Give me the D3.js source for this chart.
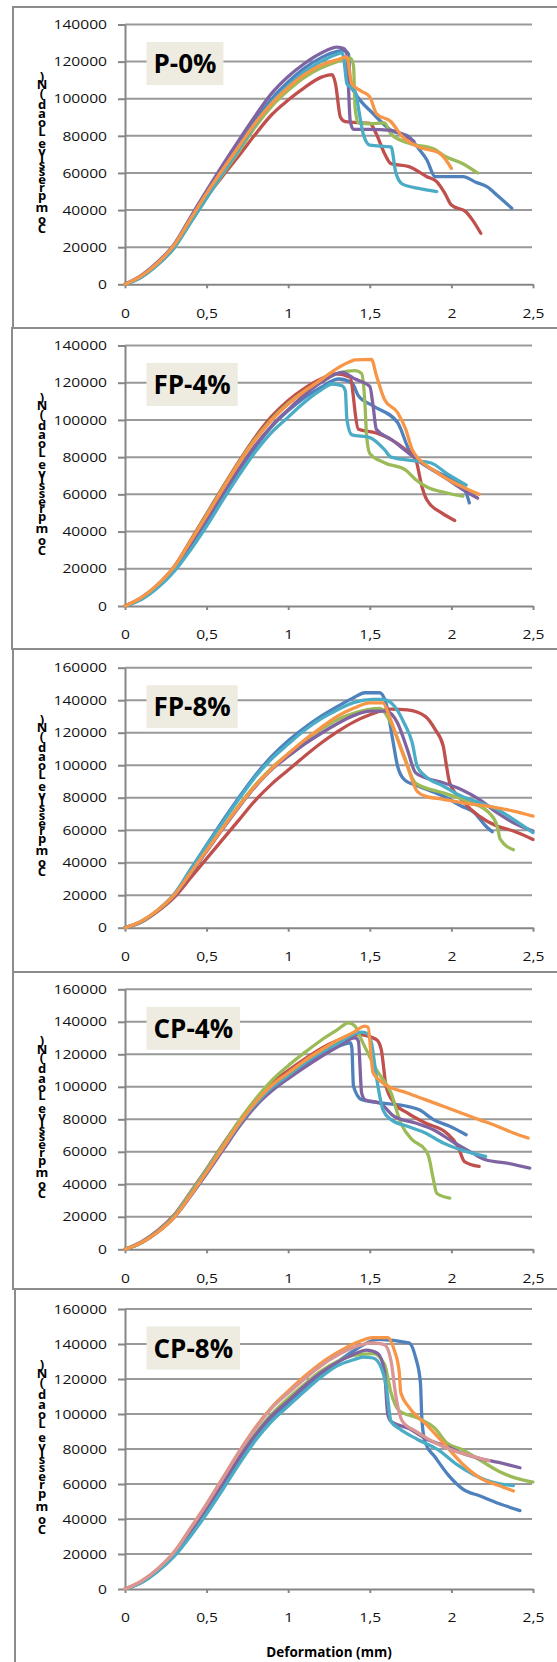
<!DOCTYPE html>
<html>
<head>
<meta charset="utf-8">
<script src="https://cdn.jsdelivr.net/npm/d3@7"></script>
<style>
  body { margin: 0; background: #fff; }
  svg text { font-family: "Open Sans", sans-serif; }
</style>
</head>
<body>
<div id="chart"></div>
<script>
// ---- data ----
const xTicks = [0, 0.5, 1, 1.5, 2, 2.5];
const yTicks140 = [0, 20000, 40000, 60000, 80000, 100000, 120000, 140000];
const yTicks160 = [0, 20000, 40000, 60000, 80000, 100000, 120000, 140000, 160000];
const panelTitles = ["P-0%", "FP-4%", "FP-8%", "CP-4%", "CP-8%"];
const yLabel = "Compressive Load (N)";
const xLabel = "Deformation (mm)";

// series order: blue, red, green, purple, aqua, orange
const p0Series = [
  [[0,0],[0.1,4500],[0.2,11000],[0.3,20500],[0.4,34500],[0.5,48500],[0.6,62000],[0.7,75000],[0.8,88500],[0.9,100000],[1.0,109000],[1.1,116500],[1.2,122000],[1.3,125500],[1.34,126000],[1.37,124000],[1.38,108000],[1.41,103000],[1.52,92000],[1.63,83000],[1.74,79500],[1.80,73000],[1.85,67000],[1.90,58000],[2.07,58000],[2.15,55000],[2.22,52500],[2.28,48000],[2.37,41000]],
  [[0,0],[0.1,4000],[0.2,11500],[0.3,20000],[0.4,33500],[0.5,47000],[0.6,58500],[0.7,69500],[0.8,81000],[0.9,91500],[1.0,99300],[1.1,106000],[1.2,111500],[1.27,113000],[1.29,108000],[1.32,90000],[1.35,87600],[1.5,86700],[1.54,81000],[1.59,70500],[1.63,65000],[1.74,63400],[1.85,58000],[1.91,55300],[1.96,49000],[2.0,42700],[2.09,39000],[2.13,34600],[2.18,27500]],
  [[0,0],[0.1,4000],[0.2,10500],[0.3,19500],[0.4,33000],[0.5,46500],[0.6,59500],[0.7,72000],[0.8,85000],[0.9,96000],[1.0,104500],[1.1,111500],[1.2,116500],[1.3,120000],[1.38,121800],[1.40,118000],[1.41,95000],[1.43,87000],[1.5,86500],[1.59,87000],[1.63,81000],[1.74,76000],[1.89,73000],[1.96,69000],[2.07,65000],[2.16,60000]],
  [[0,0],[0.1,4800],[0.2,12000],[0.3,21500],[0.4,36000],[0.5,50500],[0.6,64500],[0.7,78000],[0.8,91000],[0.9,103000],[1.0,112000],[1.1,119000],[1.2,124500],[1.3,127800],[1.34,127000],[1.36,124000],[1.37,105000],[1.38,88000],[1.40,83500],[1.5,83500],[1.63,83000],[1.67,82000],[1.77,77000]],
  [[0,0],[0.1,3800],[0.2,10500],[0.3,19500],[0.4,33000],[0.5,46500],[0.6,60000],[0.7,73000],[0.8,86500],[0.9,98000],[1.0,107000],[1.1,114500],[1.2,120000],[1.3,124000],[1.33,124800],[1.34,122000],[1.36,108000],[1.41,104000],[1.44,90000],[1.46,81000],[1.5,75000],[1.63,74000],[1.66,60000],[1.70,54000],[1.80,51700],[1.91,50000]],
  [[0,0],[0.1,4500],[0.2,11500],[0.3,21000],[0.4,35000],[0.5,49000],[0.6,62000],[0.7,74500],[0.8,87000],[0.9,97500],[1.0,106000],[1.1,113000],[1.2,118000],[1.3,121000],[1.36,122500],[1.38,112000],[1.39,108000],[1.45,104000],[1.5,101000],[1.54,92000],[1.63,87600],[1.70,79500],[1.80,74000],[1.93,70500],[2.0,62500]]
];

const fp4Series = [
  [[0,0],[0.1,4000],[0.2,10500],[0.3,19500],[0.4,32000],[0.5,45500],[0.6,59500],[0.7,73000],[0.8,85500],[0.9,96500],[1.0,105000],[1.1,112000],[1.2,117500],[1.31,122000],[1.39,120000],[1.43,113000],[1.52,107600],[1.67,98600],[1.74,84000],[1.85,75000],[1.96,70000],[2.07,65000],[2.09,61000],[2.11,55400]],
  [[0,0],[0.1,4500],[0.2,11500],[0.3,21000],[0.4,35000],[0.5,49500],[0.6,64000],[0.7,78000],[0.8,91000],[0.9,102000],[1.0,110500],[1.1,117000],[1.2,122000],[1.29,124700],[1.38,123000],[1.40,112000],[1.41,104000],[1.43,95000],[1.54,93000],[1.72,84000],[1.78,79000],[1.82,64000],[1.85,57000],[1.94,50000],[2.02,46000]],
  [[0,0],[0.1,4200],[0.2,11000],[0.3,20500],[0.4,34500],[0.5,49000],[0.6,63500],[0.7,77500],[0.8,90000],[0.9,100500],[1.0,109000],[1.1,115500],[1.2,120500],[1.32,125500],[1.41,126500],[1.45,125000],[1.47,109000],[1.48,92000],[1.5,82000],[1.59,77000],[1.72,73000],[1.78,68000],[1.85,64000],[1.96,61000],[2.07,59000]],
  [[0,0],[0.1,4000],[0.2,10800],[0.3,20000],[0.4,33000],[0.5,46500],[0.6,60500],[0.7,74000],[0.8,86500],[0.9,97000],[1.0,105500],[1.1,113500],[1.2,120000],[1.33,125600],[1.41,122000],[1.50,118000],[1.52,107600],[1.54,95000],[1.63,89600],[1.74,82000],[1.85,75000],[1.96,69000],[2.07,62600],[2.16,58000]],
  [[0,0],[0.1,3500],[0.2,9800],[0.3,18500],[0.4,30000],[0.5,43000],[0.6,57000],[0.7,70500],[0.8,83000],[0.9,93500],[1.0,101500],[1.1,109500],[1.2,116000],[1.27,119300],[1.33,118400],[1.35,115700],[1.36,100000],[1.39,92000],[1.50,90500],[1.59,84000],[1.63,80000],[1.78,78000],[1.87,77000],[1.98,70700],[2.09,65000]],
  [[0,0],[0.1,4500],[0.2,11500],[0.3,21000],[0.4,34500],[0.5,48500],[0.6,63000],[0.7,77000],[0.8,89500],[0.9,100000],[1.0,108500],[1.1,115500],[1.2,121500],[1.27,126000],[1.37,131000],[1.41,132300],[1.51,132500],[1.54,124000],[1.59,111000],[1.67,104000],[1.72,95000],[1.76,84000],[1.80,79000],[1.89,73000],[1.98,68000],[2.07,64000],[2.17,60000]]
];

const fp8Series = [
  [[0,0],[0.1,3500],[0.2,10500],[0.3,20000],[0.4,35500],[0.5,51000],[0.6,66000],[0.7,80500],[0.8,94000],[0.9,105500],[1.0,115000],[1.1,123000],[1.2,130000],[1.3,136000],[1.4,141500],[1.47,144600],[1.56,144600],[1.60,138000],[1.64,115900],[1.67,99500],[1.71,91300],[1.80,87000],[1.95,81000],[2.06,74900],[2.14,70800],[2.21,62600],[2.25,59000]],
  [[0,0],[0.1,3500],[0.2,10000],[0.3,18500],[0.4,30500],[0.5,42500],[0.6,54500],[0.7,66500],[0.8,78500],[0.9,88500],[1.0,97000],[1.1,105500],[1.2,113500],[1.3,120500],[1.4,126500],[1.5,131000],[1.63,134500],[1.73,134000],[1.84,130000],[1.90,122000],[1.95,111800],[1.97,99500],[1.99,89000],[2.06,79000],[2.17,68700],[2.28,62500],[2.38,59500],[2.5,54300]],
  [[0,0],[0.1,3800],[0.2,10500],[0.3,19500],[0.4,33500],[0.5,47500],[0.6,61500],[0.7,75500],[0.8,88000],[0.9,98500],[1.0,107000],[1.1,115000],[1.2,122000],[1.3,128000],[1.4,132000],[1.56,135000],[1.63,126000],[1.71,105600],[1.78,89000],[1.95,83000],[2.12,77000],[2.23,70800],[2.28,62600],[2.30,54300],[2.38,48000]],
  [[0,0],[0.1,3800],[0.2,10500],[0.3,19500],[0.4,33000],[0.5,47000],[0.6,61000],[0.7,74500],[0.8,87000],[0.9,97500],[1.0,105500],[1.1,113000],[1.2,119500],[1.3,125500],[1.4,130500],[1.50,133300],[1.60,133300],[1.67,126000],[1.73,109700],[1.78,95400],[1.84,92300],[1.95,89200],[2.06,85100],[2.17,79000],[2.28,70800],[2.38,64600],[2.5,59500]],
  [[0,0],[0.1,3800],[0.2,10800],[0.3,20500],[0.4,35500],[0.5,50500],[0.6,65000],[0.7,79500],[0.8,93000],[0.9,104000],[1.0,113000],[1.1,121500],[1.2,128500],[1.3,134000],[1.4,138500],[1.52,140500],[1.58,140500],[1.65,136400],[1.71,126000],[1.76,113800],[1.79,99500],[1.84,93300],[1.95,87200],[2.06,81000],[2.17,77000],[2.28,72800],[2.38,66700],[2.5,58500]],
  [[0,0],[0.1,4000],[0.2,10800],[0.3,20000],[0.4,33500],[0.5,47500],[0.6,61500],[0.7,75000],[0.8,87500],[0.9,98000],[1.0,107000],[1.1,115500],[1.2,123000],[1.3,130000],[1.4,135000],[1.50,138400],[1.58,138400],[1.62,130000],[1.67,116000],[1.73,99500],[1.79,84000],[1.84,81000],[1.95,79000],[2.06,77000],[2.28,73800],[2.38,71800],[2.5,68700]]
];

const cp4Series = [
  [[0,0],[0.1,4000],[0.2,11000],[0.3,20500],[0.4,34000],[0.5,48000],[0.6,62500],[0.7,77000],[0.8,89500],[0.9,99500],[1.0,107000],[1.1,114000],[1.2,120000],[1.3,124500],[1.38,127100],[1.39,124000],[1.40,100300],[1.45,92100],[1.58,90000],[1.73,88000],[1.80,86000],[1.89,79800],[1.99,75700],[2.09,70500]],
  [[0,0],[0.1,4500],[0.2,11500],[0.3,21000],[0.4,35000],[0.5,49500],[0.6,64500],[0.7,79000],[0.8,92000],[0.9,102500],[1.0,110000],[1.1,117000],[1.2,123500],[1.3,128500],[1.43,132200],[1.54,129100],[1.57,123000],[1.60,100300],[1.65,90000],[1.73,83900],[1.84,77700],[1.97,71600],[2.04,63300],[2.08,54000],[2.17,51000]],
  [[0,0],[0.1,4200],[0.2,11000],[0.3,20500],[0.4,34500],[0.5,49000],[0.6,64000],[0.7,79000],[0.8,92500],[0.9,104000],[1.0,113000],[1.1,121000],[1.2,128500],[1.3,135000],[1.37,139400],[1.41,137300],[1.43,133000],[1.54,110600],[1.63,96200],[1.69,77700],[1.76,67400],[1.84,61200],[1.86,57200],[1.89,42800],[1.91,34500],[1.99,31500]],
  [[0,0],[0.1,4000],[0.2,10500],[0.3,19500],[0.4,32500],[0.5,46500],[0.6,61000],[0.7,75500],[0.8,88000],[0.9,97500],[1.0,105000],[1.1,112000],[1.2,118500],[1.3,124500],[1.41,130200],[1.43,128100],[1.45,96200],[1.47,92100],[1.56,90000],[1.65,81800],[1.78,77700],[1.89,73600],[2.02,65400],[2.13,59200],[2.21,55100],[2.34,53000],[2.48,50000]],
  [[0,0],[0.1,4000],[0.2,10800],[0.3,20000],[0.4,33500],[0.5,48000],[0.6,62500],[0.7,77000],[0.8,89500],[0.9,99500],[1.0,107000],[1.1,114500],[1.2,121000],[1.3,126500],[1.45,133600],[1.48,133000],[1.51,127100],[1.54,106500],[1.58,86000],[1.63,79800],[1.73,75700],[1.84,71600],[1.95,65400],[2.06,61200],[2.21,57200]],
  [[0,0],[0.1,4000],[0.2,10500],[0.3,19500],[0.4,33000],[0.5,47500],[0.6,62500],[0.7,77500],[0.8,90500],[0.9,101000],[1.0,108500],[1.1,116000],[1.2,122500],[1.3,128500],[1.4,133500],[1.47,137300],[1.49,136500],[1.51,116800],[1.52,108600],[1.58,102400],[1.73,96200],[1.84,92100],[1.95,88000],[2.06,83900],[2.17,79800],[2.28,75700],[2.38,71600],[2.47,68500]]
];

// CP-8%: blue, green, purple, aqua, orange, pink
const cp8Series = [
  [[0,0],[0.1,3800],[0.2,10500],[0.3,19000],[0.4,31000],[0.5,44000],[0.6,58000],[0.7,72500],[0.8,86000],[0.9,97000],[1.0,105500],[1.1,114000],[1.2,122000],[1.3,129500],[1.4,136000],[1.55,142700],[1.74,140600],[1.78,132500],[1.81,118200],[1.82,95800],[1.84,83600],[1.90,75400],[1.98,65200],[2.07,57100],[2.18,53000],[2.29,48900],[2.42,44800]],
  [[0,0],[0.1,4000],[0.2,11000],[0.3,20000],[0.4,33000],[0.5,47000],[0.6,61500],[0.7,76000],[0.8,89000],[0.9,100000],[1.0,109000],[1.1,117000],[1.2,124500],[1.3,130000],[1.4,133500],[1.52,134500],[1.59,128400],[1.63,112100],[1.68,101900],[1.79,97800],[1.90,91700],[1.97,83600],[2.07,79500],[2.18,73400],[2.29,67300],[2.40,63200],[2.5,61100]],
  [[0,0],[0.1,4000],[0.2,10500],[0.3,19500],[0.4,32500],[0.5,46000],[0.6,60500],[0.7,75000],[0.8,88000],[0.9,99000],[1.0,107500],[1.1,116000],[1.2,123500],[1.3,129500],[1.4,134000],[1.48,136500],[1.55,134500],[1.59,124300],[1.61,99900],[1.63,95800],[1.74,91700],[1.85,85600],[1.97,81500],[2.07,77400],[2.18,74400],[2.29,72300],[2.42,69300]],
  [[0,0],[0.1,3500],[0.2,10000],[0.3,18500],[0.4,30000],[0.5,43000],[0.6,57000],[0.7,71500],[0.8,85000],[0.9,96000],[1.0,104500],[1.1,113000],[1.2,121000],[1.3,127500],[1.4,131000],[1.46,132500],[1.52,132000],[1.57,126400],[1.60,116200],[1.63,95800],[1.68,91700],[1.79,85600],[1.92,79500],[2.03,71300],[2.14,65200],[2.25,61100],[2.38,59100]],
  [[0,0],[0.1,4500],[0.2,11500],[0.3,21000],[0.4,34500],[0.5,48500],[0.6,63500],[0.7,78500],[0.8,92500],[0.9,104000],[1.0,113000],[1.1,121500],[1.2,129000],[1.3,135000],[1.4,140000],[1.52,143700],[1.61,143700],[1.65,136500],[1.68,124300],[1.69,112100],[1.74,103900],[1.85,93700],[1.97,81500],[2.07,71300],[2.18,63200],[2.29,59100],[2.38,56000]],
  [[0,0],[0.1,4500],[0.2,11500],[0.3,21000],[0.4,34500],[0.5,48500],[0.6,63500],[0.7,78500],[0.8,92000],[0.9,103500],[1.0,112000],[1.1,120000],[1.2,127500],[1.3,133500],[1.4,138000],[1.52,140600],[1.59,139600],[1.63,130400],[1.66,110000],[1.70,95800],[1.79,89700],[1.90,83600],[2.00,79500],[2.11,76400],[2.23,73400]]
];

// ---- styles / layout ----
const seriesColors = ["#4F81BD", "#C0504D", "#9BBB59", "#8064A2", "#4BACC6", "#F79646", "#D99694"];
const sixColors = [0, 1, 2, 3, 4, 5];
const cp8Colors = [0, 2, 3, 4, 5, 6];

const width = 557, height = 1662;
const xLeft = 125, xRight = 533;

const panels = [
  { title: panelTitles[0], series: p0Series,  colors: sixColors, ticks: yTicks140, left: 13, top: 7,    bottom: 328,  yTop: 24.5,  y0: 284.3 },
  { title: panelTitles[1], series: fp4Series, colors: sixColors, ticks: yTicks140, left: 12, top: 328,  bottom: 649,  yTop: 345.5, y0: 606 },
  { title: panelTitles[2], series: fp8Series, colors: sixColors, ticks: yTicks160, left: 13, top: 649,  bottom: 972,  yTop: 667.7, y0: 927.7 },
  { title: panelTitles[3], series: cp4Series, colors: sixColors, ticks: yTicks160, left: 13, top: 972,  bottom: 1289, yTop: 989.3, y0: 1249.3 },
  { title: panelTitles[4], series: cp8Series, colors: cp8Colors, ticks: yTicks160, left: 15, top: 1289, bottom: 1800, yTop: 1309,  y0: 1589, xTitle: true }
];

const svg = d3.select("#chart").append("svg")
    .attr("width", width)
    .attr("height", height);

svg.append("rect").attr("width", width).attr("height", height).attr("fill", "#fff");

const x = d3.scaleLinear().domain([0, 2.5]).range([xLeft, xRight]);

panels.forEach(p => {
    let g = svg.append("g");

    // panel frame (right side runs off the page)
    g.append("rect")
        .attr("x", p.left)
        .attr("y", p.top)
        .attr("width", 700)
        .attr("height", p.bottom - p.top)
        .attr("fill", "none")
        .attr("stroke", "#8c8c8c")
        .attr("stroke-width", 2);

    let y = d3.scaleLinear()
        .domain([0, d3.max(p.ticks)])
        .range([p.y0, p.yTop]);

    // gridlines
    g.append("g")
        .selectAll("line")
        .data(p.ticks.slice(1))
        .join("line")
        .attr("x1", xLeft)
        .attr("x2", xRight - 1)
        .attr("y1", d => y(d))
        .attr("y2", d => y(d))
        .attr("stroke", "#999")
        .attr("stroke-width", 2);

    // y axis
    let yAxis = g.append("g")
        .attr("transform", "translate(" + xLeft + ",0)")
        .call(d3.axisLeft(y).tickValues(p.ticks).tickSize(7).tickSizeOuter(0).tickPadding(11).tickFormat(d3.format("d")));

    // x axis
    let xAxis = g.append("g")
        .attr("transform", "translate(0," + p.y0 + ")")
        .call(d3.axisBottom(x).tickValues(xTicks).tickSize(4).tickSizeOuter(0).tickPadding(20)
            .tickFormat(d => String(d).replace(".", ",")));

    [yAxis, xAxis].forEach(a => {
        a.select(".domain").attr("stroke", "#868686").attr("stroke-width", 2);
        a.selectAll(".tick line").attr("stroke", "#868686").attr("stroke-width", 2);
        a.selectAll("text")
            .attr("fill", "#111")
            .style("font-size", "13px")
            .style("font-family", "'Open Sans', sans-serif");
    });
    // the reference digits are a bit wider than Open Sans
    yAxis.selectAll("text").attr("x", -18 / 1.2).attr("transform", "scale(1.2,1)");
    xAxis.selectAll("text").attr("transform", "scale(1.2,1)");

    // curves
    let line = d3.line()
        .x(d => x(d[0]))
        .y(d => y(d[1]))
        .curve(d3.curveMonotoneX);

    g.append("g")
        .selectAll("path")
        .data(p.series)
        .join("path")
        .attr("d", line)
        .attr("fill", "none")
        .attr("stroke", (d, i) => seriesColors[p.colors[i]])
        .attr("stroke-width", 3.3)
        .attr("stroke-linejoin", "round")
        .attr("stroke-linecap", "round");

    // title box
    let boxTop = p.yTop + 17.5;
    let box = g.append("rect")
        .attr("y", boxTop)
        .attr("height", 43)
        .attr("fill", "#EEECE1");
    let title = g.append("text")
        .attr("y", boxTop + 21.5 + 9.5)
        .attr("text-anchor", "middle")
        .style("font-size", "26px")
        .style("font-weight", 700)
        .attr("fill", "#000")
        .text(p.title);
    let tw = title.node().getComputedTextLength();
    box.attr("x", 146.5).attr("width", tw + 14);
    title.attr("x", 146.5 + (tw + 14) / 2);

    // y label: the glyphs stack upright, as in the reference
    let probe = g.append("text")
        .style("font-size", "13px")
        .style("font-weight", 700)
        .text(yLabel);
    let total = probe.node().getComputedTextLength();
    let pos = yLabel.split("").map((c, i) => {
        let s = probe.node().getStartPositionOfChar(i).x;
        let w = probe.node().getExtentOfChar(i).width;
        return s + w / 2;
    });
    probe.remove();
    let labelLen = 0.615 * (p.y0 - p.yTop);
    let k = labelLen / total;
    let mid = (p.y0 + p.yTop) / 2 - 1.5;
    g.append("g")
        .selectAll("text")
        .data(yLabel.split(""))
        .join("text")
        .attr("x", 42)
        .attr("y", (d, i) => mid + labelLen / 2 - pos[i] * k)
        .attr("text-anchor", "middle")
        .attr("dominant-baseline", "central")
        .style("font-size", "13px")
        .style("font-weight", 700)
        .attr("fill", "#000")
        .text(d => d);

    if (p.xTitle) {
        g.append("text")
            .attr("x", (xLeft + xRight) / 2)
            .attr("y", 1657)
            .attr("text-anchor", "middle")
            .style("font-size", "13.5px")
            .style("font-weight", 700)
            .attr("fill", "#000")
            .text(xLabel);
    }
});
</script>
</body>
</html>
